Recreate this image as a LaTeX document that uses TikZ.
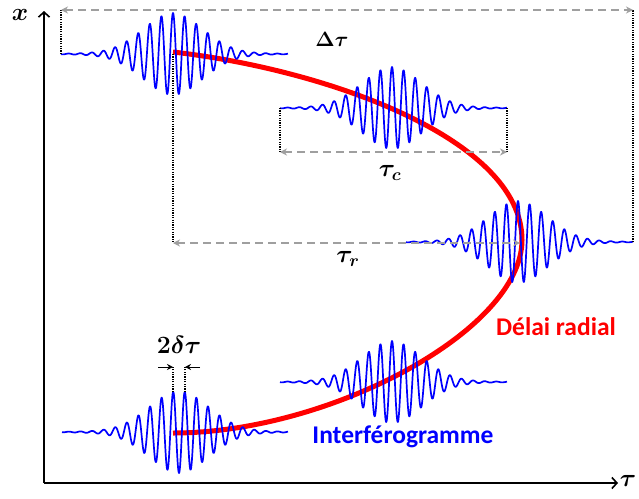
\documentclass[tikz,border=0pt]{standalone}
\usepackage{amsmath,bm}
\usepackage{fontspec}
\setmainfont{Carlito}
\usetikzlibrary{arrows.meta}
\newcommand\mywave[6]{% center x, baseline y, phase, name, left offset, right offset
  \draw[wave] plot[domain=#5:#6, samples=700]
    ({#1+\x},{#2-(38.5*exp(-0.5*(\x/30)^2)+2.5*exp(-abs(\x)/55))*cos(31.03*\x+#3)});
  \coordinate (#4L) at (#1+#5,#2);
  \coordinate (#4R) at (#1+#6,#2);
  \coordinate (#4C) at (#1,#2);
}
\begin{document}
\begin{tikzpicture}[x=1pt,y=-1pt,
  wave/.style={blue, line width=1.7pt, line join=round},
  delay/.style={red, line width=5pt},
  dimline/.style={gray!75, line width=2.2pt, dash pattern=on 8pt off 5pt,
    {Stealth[length=7pt,width=7pt]}-{Stealth[length=7pt,width=7pt]}},
  guide/.style={black, line width=1.4pt, dash pattern=on 1.2pt off 1.2pt},
  axis/.style={black, line width=1.8pt, -{Straight Barb[length=5pt,width=11pt,line width=1.6pt]}},
  mathlbl/.style={font=\fontsize{24}{28}\selectfont, inner sep=0pt},
  txt/.style={font=\fontsize{25.5}{30}\selectfont\bfseries, inner sep=0pt},
  small/.style={black, line width=1pt, -{Stealth[length=6pt,width=6pt]}}
]
\useasboundingbox (0,0) rectangle (639,498);
% axes
\coordinate (O) at (44,483);
\coordinate (Xtip) at (44,11);
\coordinate (Ttip) at (618,483);
\draw[axis] (O) -- (Xtip);
\draw[axis] (O) -- (Ttip);
\node[mathlbl, font=\fontsize{29}{32}\selectfont] (xl) at (20,15) {$\bm{x}$};
\node[mathlbl, font=\fontsize{29}{32}\selectfont] (tl) at (628,481) {$\bm{\tau}$};
% red delay curve
\coordinate (rA) at (173,52);
\coordinate (rM) at (522,240);
\coordinate (rB) at (173,433);
\draw[delay] (rA) .. controls (330,70) and (522,140) .. (rM)
  .. controls (522,330) and (330,433) .. (rB);
% wave packets
\mywave{173}{54}{0}{wA}{-112}{115}
\mywave{392}{108}{0}{wB}{-112}{115}
\mywave{518}{242}{0}{wC}{-112}{115}
\mywave{392}{382}{0}{wD}{-112}{115}
\mywave{179}{432}{180}{wE}{-117}{109}
% Delta tau
\coordinate (dL) at (61,10);
\coordinate (dR) at (633,10);
\draw[guide] (wAL) -- (dL);
\draw[guide] (wCR) -- (dR);
\draw[dimline] (dL) -- (dR);
\node[mathlbl, font=\fontsize{22}{26}\selectfont] (dlbl) at (332,39) {$\bm{\Delta\tau}$};
% tau c
\coordinate (cL) at (280,152);
\coordinate (cR) at (507,152);
\draw[guide] (wBL) -- (cL);
\draw[guide] (wBR) -- (cR);
\draw[dimline] (cL) -- (cR);
\node[mathlbl] (clbl) at (390,173) {$\bm{\tau_c}$};
% tau r
\coordinate (rL) at (173,243);
\coordinate (rR) at (520,243);
\draw[guide] (wAC) -- (rL);
\draw[dimline] (rL) -- (rR);
\node[mathlbl] (rlbl) at (348,259) {$\bm{\tau_r}$};
% 2 delta tau
\coordinate (p1b) at (173,392);
\coordinate (p1t) at (173,367);
\coordinate (p2b) at (185,392);
\coordinate (p2t) at (185,367);
\coordinate (a1) at (158,367);
\coordinate (a2) at (200,367);
\draw[guide, line width=1.2pt] (p1b) -- (p1t);
\draw[guide, line width=1.2pt] (p2b) -- (p2t);
\draw[small] (a1) -- (p1t);
\draw[small] (a2) -- (p2t);
\node[mathlbl, font=\fontsize{26}{30}\selectfont] (ddlbl) at (179,345) {$\bm{2\delta\tau}$};
% texts
\node[txt, text=red] (delai) at (556,327) {Délai radial};
\node[txt, text=blue] (interf) at (403,437) {Interférogramme};
\end{tikzpicture}
\end{document}
